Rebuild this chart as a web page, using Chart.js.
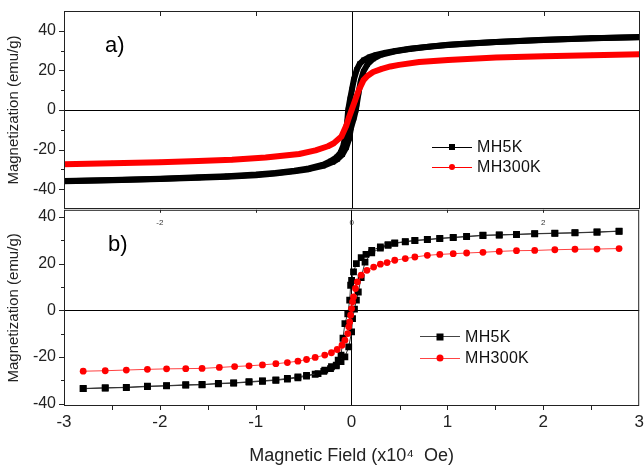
<!DOCTYPE html>
<html>
<head>
<meta charset="utf-8">
<script src="https://cdn.jsdelivr.net/npm/chart.js@4.4.1/dist/chart.umd.min.js"></script>
<style>
  html, body { margin: 0; padding: 0; background: #fff; }
  #wrap { position: relative; width: 644px; height: 469px; overflow: hidden;
          font-family: "Liberation Sans", Arial, sans-serif; }
  canvas { position: absolute; left: 0; }
  #cA { top: 0; }
  #cB { top: 205px; }
  .tag { position: absolute; font-size: 22px; line-height: 1; color: #000; }
  .legend { position: absolute; font-size: 16px; color: #111; letter-spacing: 0.3px; }
  .row { display: flex; align-items: center; }
  .key { position: relative; width: 40px; height: 1px; margin-right: 5px; }
  .key i { position: absolute; left: 50%; top: 50%; transform: translate(-50%, -50%); display: block; }
</style>
</head>
<body>
<div id="wrap">
  <canvas id="cA" width="644" height="215"></canvas>
  <canvas id="cB" width="644" height="264"></canvas>

  <div class="tag" style="left:105px; top:34px;">a)</div>
  <div class="tag" style="left:108px; top:233px;">b)</div>

  <div class="legend" style="left:432px; top:137px;">
    <div class="row" style="height:20px;">
      <span class="key" style="background:#000;"><i style="width:6px;height:6px;background:#000;"></i></span>MH5K
    </div>
    <div class="row" style="height:20px;">
      <span class="key" style="background:#f00;"><i style="width:6px;height:6px;background:#f00;border-radius:50%;"></i></span>MH300K
    </div>
  </div>

  <div class="legend" style="left:420px; top:326px;">
    <div class="row" style="height:21.5px;">
      <span class="key" style="background:#444;"><i style="width:7px;height:7px;background:#000;"></i></span>MH5K
    </div>
    <div class="row" style="height:21.5px;">
      <span class="key" style="background:#f44;"><i style="width:7px;height:7px;background:#f00;border-radius:50%;"></i></span>MH300K
    </div>
  </div>
</div>

<script>
// ================================
// DATA (field in x10^4 Oe, magnetization in emu/g)
// ================================

// ---- panel a) dense measurement ----
const aH5Kdown = [3.0, 2.5, 2.0, 1.5, 1.2, 1.0, 0.8, 0.6, 0.45, 0.35, 0.25, 0.18, 0.12, 0.08, 0.05, 0.02, 0.0, -0.02, -0.04, -0.05, -0.07, -0.09, -0.12, -0.16, -0.22, -0.3, -0.45, -0.6, -0.8, -1.0, -1.3, -1.6, -2.0, -2.5, -3.0];
const aM5Kdown = [36.9, 36.3, 35.5, 34.4, 33.6, 33.0, 32.0, 30.9, 29.8, 28.9, 27.8, 26.7, 25.2, 23.3, 20.4, 15.5, 10.5, 5.5, 0.0, -6.0, -13.0, -18.0, -21.5, -23.8, -25.8, -27.6, -29.5, -30.7, -31.8, -32.6, -33.4, -34.0, -34.7, -35.3, -35.8];

const aH5Kup = [-3.0, -2.5, -2.0, -1.6, -1.3, -1.0, -0.8, -0.6, -0.45, -0.3, -0.2, -0.15, -0.1, -0.06, -0.03, -0.01, 0.02, 0.04, 0.05, 0.07, 0.09, 0.12, 0.16, 0.22, 0.3, 0.45, 0.6, 0.8, 1.0, 1.2, 1.5, 2.0, 2.5, 3.0];
const aM5Kup = [-36.0, -35.5, -34.9, -34.2, -33.7, -32.9, -32.1, -31.0, -29.9, -28.2, -26.3, -24.8, -22.5, -19.0, -14.5, -9.0, -4.0, 0.0, 3.0, 9.0, 14.5, 19.5, 23.0, 25.8, 27.8, 29.6, 30.8, 31.9, 32.8, 33.5, 34.3, 35.4, 36.2, 36.8];

const aH300K = [-3.0, -2.5, -2.0, -1.6, -1.25, -0.9, -0.55, -0.38, -0.25, -0.19, -0.11, -0.06, -0.03, 0.0, 0.03, 0.07, 0.12, 0.16, 0.22, 0.31, 0.4, 0.49, 0.7, 1.0, 1.5, 2.0, 2.5, 3.0];
const aM300K = [-27.4, -26.9, -26.4, -25.8, -25.1, -24.0, -22.2, -20.4, -18.3, -16.8, -13.4, -8.0, -3.5, 0.5, 4.5, 10.0, 15.1, 17.2, 19.2, 20.8, 22.0, 22.8, 24.2, 25.3, 26.5, 27.2, 27.7, 28.2];

// ---- panel b) sparse markers ----
const bH5Kdown = [2.79, 2.56, 2.33, 2.12, 1.91, 1.72, 1.54, 1.37, 1.20, 1.06, 0.92, 0.79, 0.66, 0.56, 0.45, 0.38, 0.30, 0.21, 0.15, 0.10, 0.05, 0.02, 0.0, -0.01, -0.02, -0.04, -0.07, -0.09, -0.11, -0.14, -0.16, -0.21, -0.28, -0.35, -0.47, -0.56, -0.67, -0.79, -0.93, -1.07, -1.23, -1.39, -1.56, -1.73, -1.93, -2.13, -2.35, -2.57, -2.80];
const bM5Kdown = [33.9, 33.5, 33.2, 33.0, 32.8, 32.5, 32.3, 32.1, 31.6, 31.2, 30.8, 30.3, 29.9, 29.4, 28.8, 28.1, 27.1, 25.6, 23.9, 22.5, 20.0, 16.4, 12.8, 10.7, 4.3, -1.5, -5.7, -12.0, -19.2, -21.4, -23.5, -24.2, -25.6, -27.1, -27.9, -28.5, -29.2, -29.8, -30.2, -30.6, -31.1, -31.3, -31.8, -31.9, -32.3, -32.5, -33.0, -33.2, -33.5];

const bH5Kup = [-2.80, -2.57, -2.35, -2.13, -1.93, -1.73, -1.56, -1.39, -1.23, -1.07, -0.93, -0.79, -0.67, -0.56, -0.47, -0.38, -0.29, -0.22, -0.16, -0.11, -0.07, -0.03, 0.0, 0.01, 0.03, 0.05, 0.07, 0.10, 0.14, 0.21, 0.30, 0.38, 0.45, 0.56, 0.66, 0.79, 0.92, 1.06, 1.20, 1.37, 1.54, 1.72, 1.91, 2.12, 2.33, 2.56, 2.79];
const bM5Kup = [-33.6, -33.3, -33.1, -32.7, -32.4, -32.1, -31.9, -31.5, -31.2, -30.8, -30.4, -30.0, -29.5, -28.9, -28.2, -27.4, -26.2, -25.0, -23.8, -22.0, -20.0, -15.7, -9.3, -3.6, 0.5, 4.3, 7.8, 14.0, 20.6, 24.6, 26.6, 27.8, 28.6, 29.3, 29.8, 30.2, 30.7, 31.1, 31.5, 32.0, 32.2, 32.4, 32.7, 32.9, 33.1, 33.4, 33.8];

const bH300K = [-2.80, -2.57, -2.35, -2.13, -1.93, -1.73, -1.56, -1.38, -1.22, -1.07, -0.93, -0.79, -0.67, -0.56, -0.47, -0.38, -0.28, -0.21, -0.15, -0.10, -0.07, -0.04, -0.03, -0.02, -0.01, 0.0, 0.01, 0.02, 0.04, 0.06, 0.10, 0.16, 0.23, 0.30, 0.37, 0.45, 0.56, 0.66, 0.79, 0.92, 1.06, 1.20, 1.37, 1.54, 1.72, 1.91, 2.12, 2.33, 2.56, 2.79];
const bM300K = [-26.1, -25.9, -25.6, -25.3, -25.1, -25.0, -24.9, -24.5, -24.1, -23.8, -23.4, -22.9, -22.4, -21.8, -21.1, -20.2, -19.2, -18.2, -16.8, -15.0, -12.8, -10.0, -7.1, -5.0, -2.1, 0.7, 3.6, 5.7, 9.3, 12.1, 15.0, 17.1, 18.5, 19.7, 20.4, 21.4, 22.1, 22.8, 23.5, 23.9, 24.2, 24.5, 24.8, 25.2, 25.5, 25.6, 25.9, 26.1, 26.2, 26.4];

// ---- ticks ----
const yTicks = [-40, -20, 0, 20, 40];
const yMinor = [-30, -10, 10, 30];
const xTicks = [-3, -2, -1, 0, 1, 2, 3];
const xTopLabels = [-2, 0, 2];
const xTopMarks = [-2, -1, 1, 2];
const xBottomMarks = [-2.5, -2, -1.5, -1, -0.5, 0.5, 1, 1.5, 2, 2.5];

// ================================
// HELPERS
// ================================
const FONT = '"Liberation Sans", Arial, sans-serif';
const pts = (hs, ms) => hs.map((h, i) => ({ x: h, y: ms[i] }));
const zeroGrid = c => (c.tick && c.tick.value === 0) ? '#000' : 'rgba(0,0,0,0)';

// frame + tick marks (+ the small inner labels on top of panel b)
const frameTicks = {
  id: 'frameTicks',
  afterDraw(chart, args, o) {
    const { ctx, chartArea: a } = chart;
    const x = chart.scales.x, y = chart.scales.y;
    ctx.save();
    ctx.strokeStyle = '#222';
    ctx.lineWidth = 1;
    ctx.strokeRect(a.left + 0.5, a.top + 0.5, a.right - a.left - 1, a.bottom - a.top - 1);
    ctx.beginPath();
    yTicks.forEach(v => {
      const p = Math.round(y.getPixelForValue(v)) + 0.5;
      ctx.moveTo(a.left, p); ctx.lineTo(a.left - 5, p);
    });
    yMinor.forEach(v => {
      const p = Math.round(y.getPixelForValue(v)) + 0.5;
      ctx.moveTo(a.left, p); ctx.lineTo(a.left - 3, p);
    });
    xTopMarks.forEach(v => {
      const p = Math.round(x.getPixelForValue(v)) + 0.5;
      ctx.moveTo(p, a.top); ctx.lineTo(p, a.top + o.topLen);
    });
    if (o.bottom) {
      xBottomMarks.forEach(v => {
        const p = Math.round(x.getPixelForValue(v)) + 0.5;
        ctx.moveTo(p, a.bottom); ctx.lineTo(p, a.bottom + 4);
      });
    }
    ctx.stroke();

    if (o.innerLabels) {
      ctx.fillStyle = '#333';
      ctx.font = '8px ' + FONT;
      ctx.textAlign = 'center';
      ctx.textBaseline = 'middle';
      xTopLabels.forEach(v => {
        ctx.fillText(String(v), x.getPixelForValue(v), a.top + 13);
      });
    }
    ctx.restore();
  }
};

function yScale(min, max) {
  return {
    type: 'linear', min: min, max: max,
    afterBuildTicks: s => { s.ticks = yTicks.map(v => ({ value: v })); },
    afterFit: s => { s.width = 64; s.paddingTop = 0; s.paddingBottom = 0; },
    grid: { drawTicks: false, color: zeroGrid, lineWidth: 1 },
    border: { display: false },
    ticks: { padding: 8, color: '#222', font: { family: FONT, size: 16 } },
    title: {
      display: true, text: 'Magnetization (emu/g)', color: '#222',
      font: { family: FONT, size: 15 }, padding: { top: 5, bottom: 0 }
    }
  };
}

const common = {
  responsive: false,
  animation: false,
  events: [],
  plugins: { legend: { display: false }, tooltip: { enabled: false } }
};

// ================================
// PANEL a)
// ================================
new Chart(document.getElementById('cA'), {
  type: 'scatter',
  data: {
    datasets: [
      { data: pts(aH300K, aM300K), showLine: true, borderColor: '#ff0000', backgroundColor: '#ff0000',
        borderWidth: 6, borderJoinStyle: 'round', borderCapStyle: 'round',
        pointStyle: 'circle', pointRadius: 2.5, pointBorderWidth: 0 },
      { data: pts(aH5Kdown, aM5Kdown), showLine: true, borderColor: '#000', backgroundColor: '#000',
        borderWidth: 6, borderJoinStyle: 'round', borderCapStyle: 'round',
        pointStyle: 'rect', pointRadius: 3.5, pointBorderWidth: 0 },
      { data: pts(aH5Kup, aM5Kup), showLine: true, borderColor: '#000', backgroundColor: '#000',
        borderWidth: 6, borderJoinStyle: 'round', borderCapStyle: 'round',
        pointStyle: 'rect', pointRadius: 3.5, pointBorderWidth: 0 }
    ]
  },
  options: {
    ...common,
    layout: { padding: { top: 11, bottom: 6, left: 0, right: 3 } },
    scales: {
      x: {
        type: 'linear', position: 'top', min: -3, max: 3,
        afterBuildTicks: s => { s.ticks = xTicks.map(v => ({ value: v })); },
        afterFit: s => { s.height = 0; s.paddingLeft = 0; s.paddingRight = 0; },
        grid: { drawTicks: false, color: zeroGrid, lineWidth: 1 },
        border: { display: false },
        ticks: { display: false }
      },
      y: yScale(-50, 50)
    },
    plugins: { ...common.plugins, frameTicks: { topLen: 5, bottom: false, innerLabels: false } }
  },
  plugins: [frameTicks]
});

// ================================
// PANEL b)
// ================================
new Chart(document.getElementById('cB'), {
  type: 'scatter',
  data: {
    datasets: [
      { data: pts(bH300K, bM300K), showLine: true, borderColor: '#ff4040', backgroundColor: '#ff0000',
        borderWidth: 1, pointStyle: 'circle', pointRadius: 3.4, pointBorderWidth: 0 },
      { data: pts(bH5Kdown, bM5Kdown), showLine: true, borderColor: '#333', backgroundColor: '#000',
        borderWidth: 1, pointStyle: 'rect', pointRadius: 4.8, pointBorderWidth: 0 },
      { data: pts(bH5Kup, bM5Kup), showLine: true, borderColor: '#333', backgroundColor: '#000',
        borderWidth: 1, pointStyle: 'rect', pointRadius: 4.8, pointBorderWidth: 0 }
    ]
  },
  options: {
    ...common,
    layout: { padding: { top: 4, bottom: 0, left: 0, right: 3 } },
    scales: {
      x: {
        type: 'linear', position: 'bottom', min: -3, max: 3,
        afterBuildTicks: s => { s.ticks = xTicks.map(v => ({ value: v })); },
        afterFit: s => { s.height = 63; s.paddingLeft = 0; s.paddingRight = 0; },
        grid: { drawTicks: false, color: zeroGrid, lineWidth: 1 },
        border: { display: false },
        ticks: { padding: 6, color: '#222', autoSkip: false, maxRotation: 0, font: { family: FONT, size: 17 } },
        title: {
          display: true, text: 'Magnetic Field (x10\u2074  Oe)', color: '#222',
          font: { family: FONT, size: 18 }, padding: { top: 0, bottom: 2 }
        }
      },
      y: yScale(-41, 43)
    },
    plugins: { ...common.plugins, frameTicks: { topLen: 3, bottom: true, innerLabels: true } }
  },
  plugins: [frameTicks]
});
</script>
</body>
</html>
